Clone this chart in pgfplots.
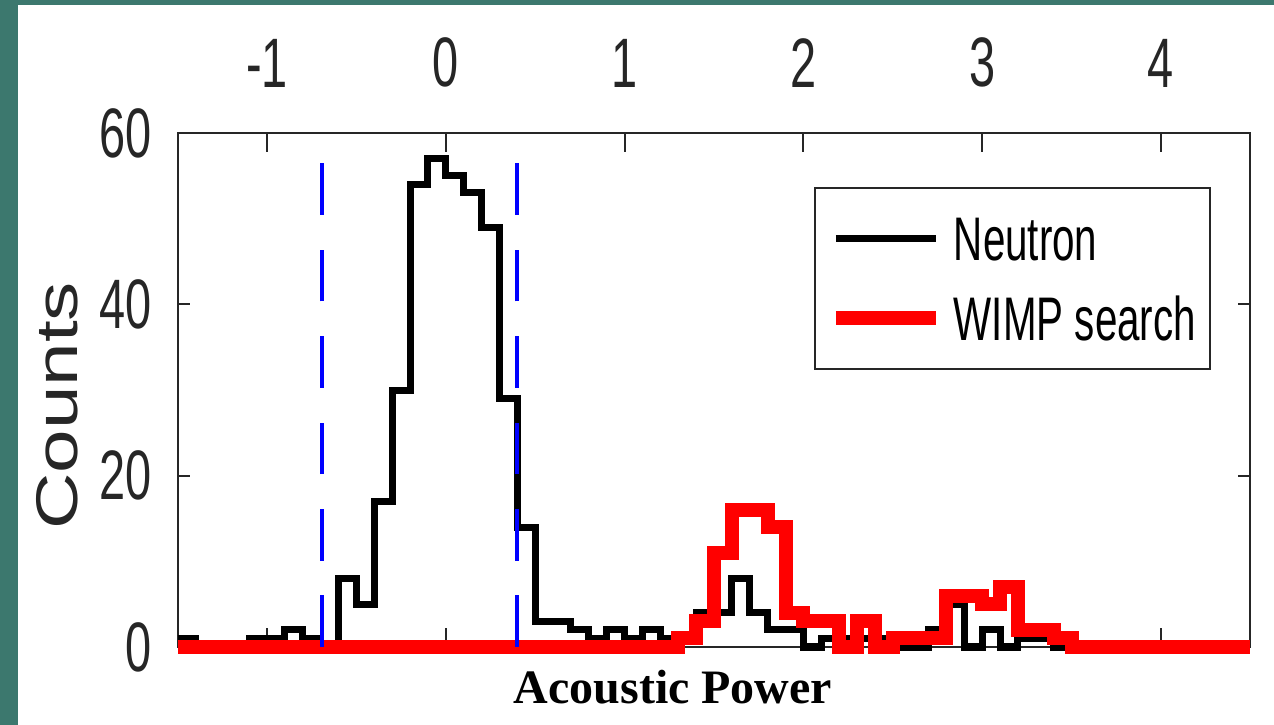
\documentclass[border=0pt]{standalone}
\usepackage{fontspec}
\usepackage{pgfplots}
\pgfplotsset{compat=1.18}
\setmainfont{Liberation Sans}
% MATLAB figure was squeezed sideways, so the sans text is narrow
\newfontfamily\tickfont{Liberation Sans}[FakeStretch=0.67]
\newfontfamily\legfont{Liberation Sans}[FakeStretch=0.655]
\newfontfamily\labfont{Liberation Sans}[FakeStretch=1.33]
\newfontfamily\seriffont{Liberation Serif}
\definecolor{tealbg}{RGB}{60,120,110}
\definecolor{axgray}{RGB}{38,38,38}

\begin{document}
\begin{tikzpicture}
\fill[white] (0,0) rectangle (318.5bp,181.25bp);
\fill[tealbg] (0,0) rectangle (4.5bp,181.25bp);
\fill[tealbg] (0,180bp) rectangle (318.5bp,181.25bp);
\useasboundingbox (0,0) rectangle (318.5bp,181.25bp);
\begin{axis}[
  scale only axis, width=268.2bp, height=128.5bp,
  at={(44.4bp,19.5bp)}, anchor=south west,
  xmin=-1.5, xmax=4.5, ymin=0, ymax=60,
  xtick={-1,0,1,2,3,4}, ytick={0,20,40,60},
  xticklabel pos=upper,
  tick align=inside,
  axis line style={axgray, line width=0.5bp},
  every tick/.style={axgray, line width=0.5bp},
  major tick length=4.75bp,
  ytick style={/pgfplots/major tick length=3bp},
  /pgf/number format/assume math mode=true,
  tick label style={font=\fontsize{17.5bp}{18bp}\selectfont\tickfont, text=axgray},
  xticklabel style={inner sep=0pt, yshift=11.25bp},
  yticklabel style={inner sep=0pt, xshift=-6.4bp},
  xlabel={\seriffont\bfseries Acoustic Power},
  xlabel style={at={(axis description cs:0.4618,-0.109)}, anchor=base,
    font=\fontsize{12bp}{14bp}\selectfont},
  ylabel={Counts},
  ylabel style={at={(axis description cs:-0.1124,0.469)}, anchor=center,
    font=\fontsize{14.7bp}{16bp}\selectfont\labfont, text=axgray},
  clip=false,
  legend cell align=left,
  legend style={at={(axis description cs:0.9633,0.8949)}, anchor=north east,
    draw=axgray, line width=0.5bp, fill=white,
    inner xsep=3.5bp, inner ysep=7.1bp, row sep=9bp, column sep=2.75bp,
    font=\fontsize{15.4bp}{16bp}\selectfont\legfont,
    nodes={inner sep=0pt, text height=11bp, text depth=0pt}},
  legend image code/.code={\draw[#1] (0bp,0bp) -- (25bp,0bp);},
]
% Neutron histogram, bins of 0.1 (left edge, count)
\addplot[black, line width=1.75bp, const plot] coordinates {
  (-1.5,1) (-1.4,0) (-1.3,0) (-1.2,0) (-1.1,1) (-1.0,1) (-0.9,2) (-0.8,1)
  (-0.7,0) (-0.6,8) (-0.5,5) (-0.4,17) (-0.3,30) (-0.2,54) (-0.1,57)
  (0.0,55) (0.1,53) (0.2,49) (0.3,29) (0.4,14) (0.5,3) (0.6,3) (0.7,2)
  (0.8,1) (0.9,2) (1.0,1) (1.1,2) (1.2,1) (1.3,1) (1.4,4) (1.5,4) (1.6,8)
  (1.7,4) (1.8,2) (1.9,2) (2.0,0) (2.1,1) (2.2,1) (2.3,1) (2.4,1) (2.5,0)
  (2.6,0) (2.7,2) (2.8,5) (2.9,0) (3.0,2) (3.1,0) (3.2,1) (3.3,1) (3.4,0)
  (4.5,0)};
% WIMP search histogram
\addplot[red, line width=3.5bp, const plot] coordinates {
  (-1.5,0) (1.3,1) (1.4,3) (1.5,11) (1.6,16) (1.7,16) (1.8,14) (1.9,4)
  (2.0,3) (2.1,3) (2.2,0) (2.3,3) (2.4,0) (2.5,1) (2.6,1) (2.7,1) (2.8,6)
  (2.9,6) (3.0,5) (3.1,7) (3.2,2) (3.3,2) (3.4,1) (3.5,0) (4.5,0)};
% cut lines
\addplot[blue, line width=1bp, dash pattern=on 12.9bp off 8.7bp, forget plot]
  coordinates {(-0.69,0) (-0.69,56.5)};
\addplot[blue, line width=1bp, dash pattern=on 12.9bp off 8.7bp, forget plot]
  coordinates {(0.40,0) (0.40,56.5)};
\legend{Neutron,WIMP search}
\end{axis}
\end{tikzpicture}
\end{document}
